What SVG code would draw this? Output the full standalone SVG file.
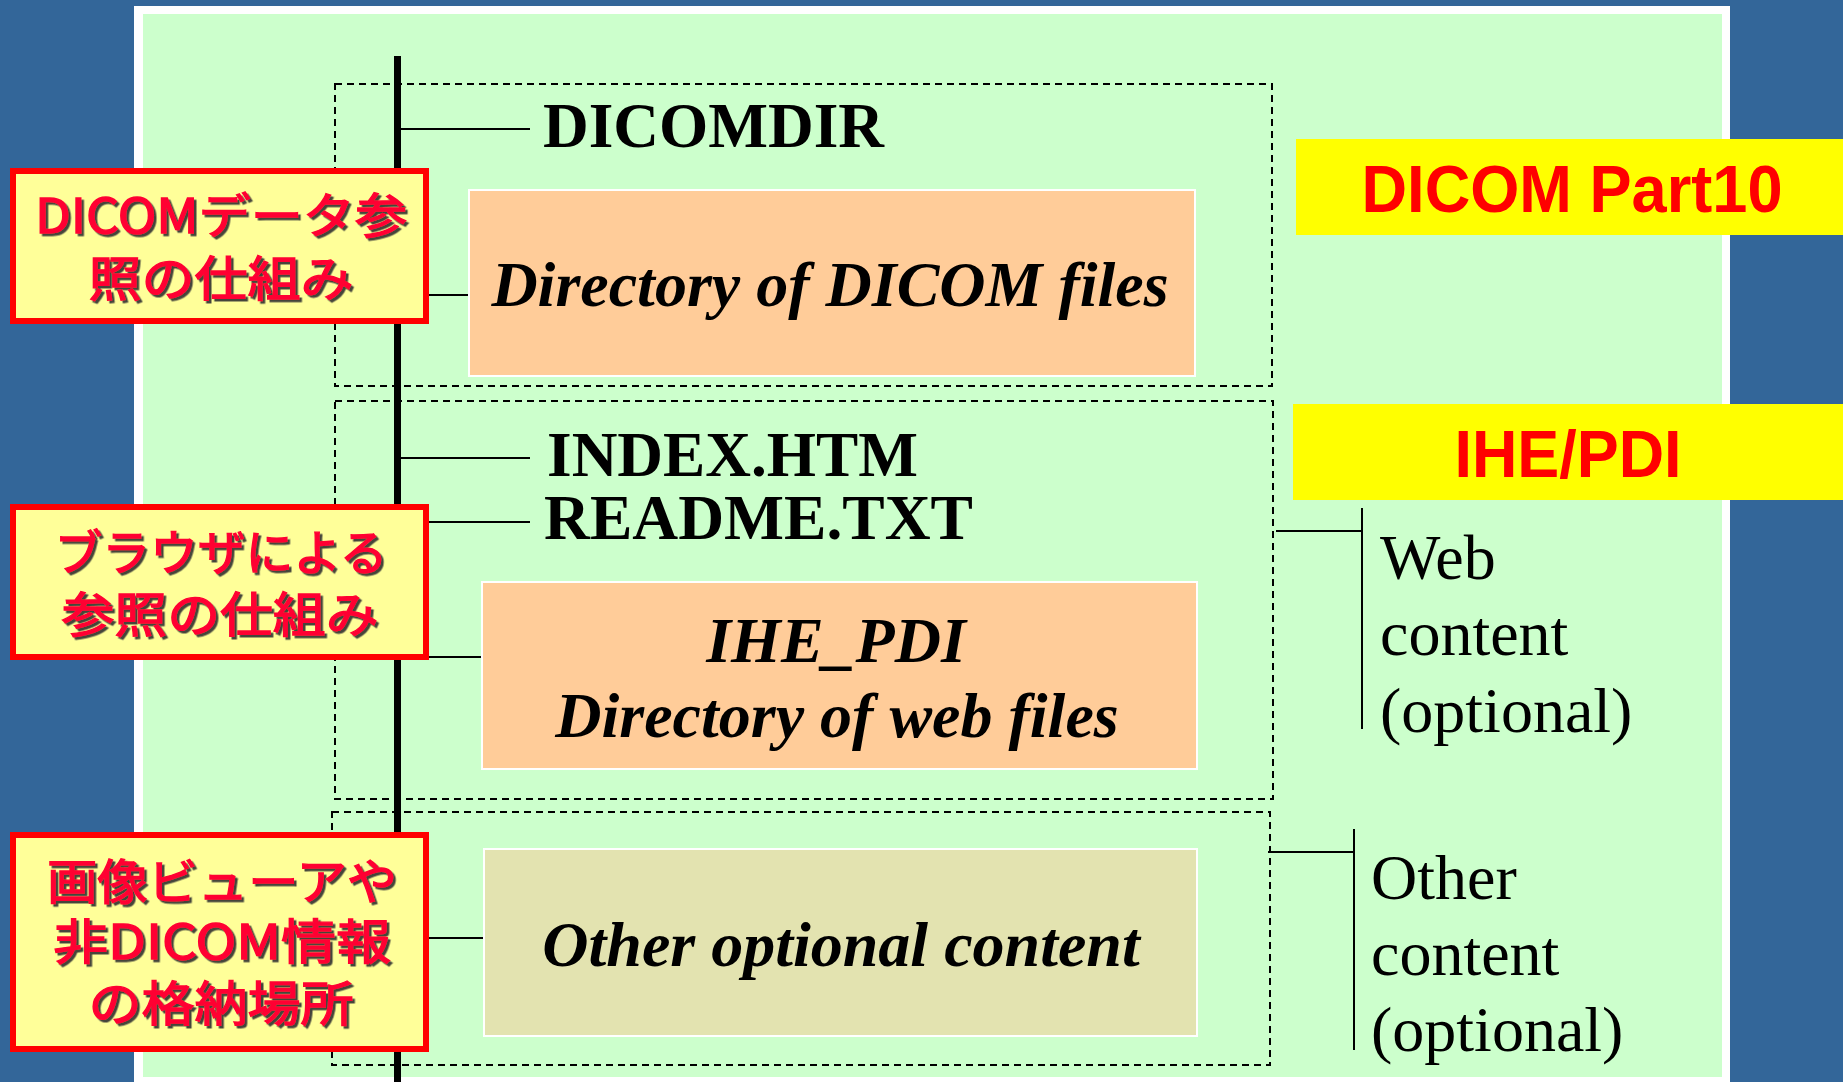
<svg xmlns="http://www.w3.org/2000/svg" width="1843" height="1082" viewBox="0 0 1843 1082">
  <defs>
    <filter id="shadow" x="-5%" y="-20%" width="115%" height="150%">
      <feDropShadow dx="2.5" dy="2.5" stdDeviation="0.6" flood-color="#333333" flood-opacity="0.9"/>
    </filter>
  </defs>
  <style>
    .dash { fill: none; stroke: #000; stroke-width: 2; stroke-dasharray: 7 5; }
    .conn { stroke: #000; stroke-width: 2; fill: none; }
    .lbl { fill: #FFFF99; stroke: #FF0000; stroke-width: 6; }
    .lbltxt { font-family: "Noto Sans CJK JP", "Noto Sans", sans-serif; font-weight: normal; font-size: 48px; fill: #FF0033; stroke: #FF0033; stroke-width: 1.3; text-anchor: middle; filter: url(#shadow); }
    .file { font-family: "Liberation Serif", "Times New Roman", serif; font-weight: bold; font-size: 63px; fill: #000; }
    .dir { font-family: "Liberation Serif", "Times New Roman", serif; font-weight: bold; font-style: italic; font-size: 64px; fill: #000; text-anchor: middle; }
    .side { font-family: "Liberation Serif", "Times New Roman", serif; font-size: 64px; fill: #000; }
    .tag { fill: #FFFF00; }
    .tagtxt { font-family: "Liberation Sans", Arial, sans-serif; font-weight: bold; font-size: 67px; fill: #FF0000; text-anchor: middle; }
    .box { stroke: #FFFFFF; stroke-width: 2; }
  </style>

  <!-- background -->
  <rect x="0" y="0" width="1843" height="1082" fill="#336699"/>
  <rect x="134" y="6" width="1596" height="1090" fill="#FFFFFF"/>
  <rect x="143" y="14" width="1579" height="1063" fill="#CCFFCC"/>

  <!-- dashed group frames -->
  <g id="groups">
    <rect class="dash" x="335" y="84" width="937" height="302"/>
    <rect class="dash" x="335" y="401" width="938" height="398"/>
    <rect class="dash" x="332" y="812" width="938" height="253"/>
  </g>

  <!-- connectors -->
  <g id="connectors">
    <line x1="397.5" y1="56" x2="397.5" y2="1082" stroke="#000" stroke-width="7"/>
    <line class="conn" x1="400" y1="129" x2="530" y2="129"/>
    <line class="conn" x1="429" y1="295" x2="470" y2="295"/>
    <line class="conn" x1="400" y1="458" x2="530" y2="458"/>
    <line class="conn" x1="429" y1="522" x2="530" y2="522"/>
    <line class="conn" x1="429" y1="657" x2="483" y2="657"/>
    <line class="conn" x1="429" y1="938" x2="485" y2="938"/>
    <line class="conn" x1="1276" y1="531" x2="1362" y2="531"/>
    <line class="conn" x1="1362" y1="508" x2="1362" y2="729"/>
    <line class="conn" x1="1268" y1="852" x2="1354" y2="852"/>
    <line class="conn" x1="1354" y1="829" x2="1354" y2="1050"/>
  </g>

  <!-- file nodes -->
  <g id="dicomdir">
    <text class="file" x="543" y="147" textLength="341" lengthAdjust="spacingAndGlyphs">DICOMDIR</text>
  </g>
  <g id="dicom-files">
    <rect class="box" x="469" y="190" width="726" height="186" fill="#FFCC99"/>
    <text class="dir" x="830" y="306">Directory of DICOM files</text>
  </g>
  <g id="index-htm">
    <text class="file" x="547" y="476" textLength="371" lengthAdjust="spacingAndGlyphs">INDEX.HTM</text>
  </g>
  <g id="readme-txt">
    <text class="file" x="544" y="539" textLength="429" lengthAdjust="spacingAndGlyphs">README.TXT</text>
  </g>
  <g id="ihe-pdi">
    <rect class="box" x="482" y="582" width="715" height="187" fill="#FFCC99"/>
    <text class="dir" x="836" y="662">IHE_PDI</text>
    <text class="dir" x="837" y="737">Directory of web files</text>
  </g>
  <g id="other-content">
    <rect class="box" x="484" y="849" width="713" height="187" fill="#E3E3B0"/>
    <text class="dir" x="841" y="966">Other optional content</text>
  </g>

  <!-- left labels -->
  <g id="label-dicom">
    <rect class="lbl" x="13" y="171" width="413" height="150"/>
    <text class="lbltxt" x="221" y="233" textLength="372" lengthAdjust="spacingAndGlyphs">DICOMデータ参</text>
    <text class="lbltxt" x="221" y="296" textLength="265" lengthAdjust="spacingAndGlyphs">照の仕組み</text>
  </g>
  <g id="label-browser">
    <rect class="lbl" x="13" y="507" width="413" height="150"/>
    <text class="lbltxt" x="221" y="570" textLength="333" lengthAdjust="spacingAndGlyphs">ブラウザによる</text>
    <text class="lbltxt" x="220" y="632" textLength="317" lengthAdjust="spacingAndGlyphs">参照の仕組み</text>
  </g>
  <g id="label-viewer">
    <rect class="lbl" x="13" y="835" width="413" height="214"/>
    <text class="lbltxt" x="222" y="899" textLength="350" lengthAdjust="spacingAndGlyphs">画像ビューアや</text>
    <text class="lbltxt" x="222" y="959" textLength="338" lengthAdjust="spacingAndGlyphs">非DICOM情報</text>
    <text class="lbltxt" x="221" y="1021" textLength="265" lengthAdjust="spacingAndGlyphs">の格納場所</text>
  </g>

  <!-- right tags -->
  <g id="tag-part10">
    <rect class="tag" x="1296" y="139" width="547" height="96"/>
    <text class="tagtxt" x="1572" y="212" textLength="421" lengthAdjust="spacingAndGlyphs">DICOM Part10</text>
  </g>
  <g id="tag-ihepdi">
    <rect class="tag" x="1293" y="404" width="550" height="96"/>
    <text class="tagtxt" x="1568" y="477" textLength="227" lengthAdjust="spacingAndGlyphs">IHE/PDI</text>
  </g>

  <!-- side notes -->
  <g id="web-content">
    <text class="side" x="1380" y="579">Web</text>
    <text class="side" x="1380" y="655">content</text>
    <text class="side" x="1380" y="732">(optional)</text>
  </g>
  <g id="other-note">
    <text class="side" x="1371" y="899">Other</text>
    <text class="side" x="1371" y="975">content</text>
    <text class="side" x="1371" y="1051">(optional)</text>
  </g>
</svg>
